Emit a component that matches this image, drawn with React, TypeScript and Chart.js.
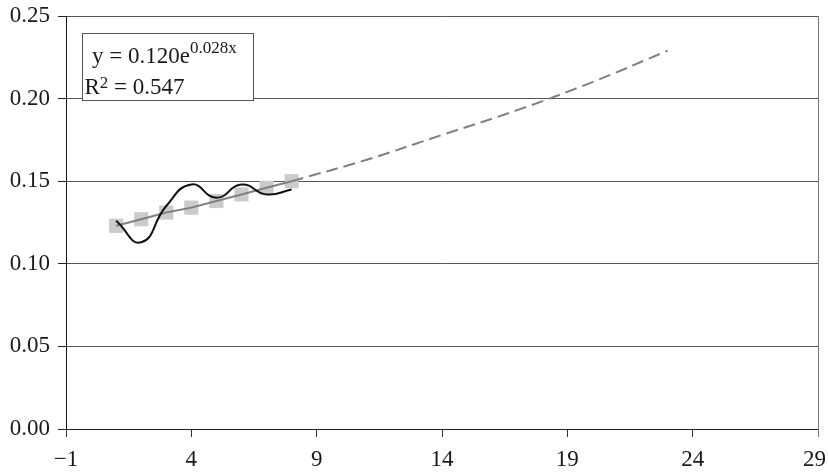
import { useEffect, useRef } from 'react';
import { Chart, registerables } from 'chart.js';

Chart.register(...registerables);

// Observed series (period → rate)
const periods = [1, 2, 3, 4, 5, 6, 7, 8];
const observed = [0.126, 0.113, 0.135, 0.148, 0.140, 0.148, 0.142, 0.145];

// Exponential fit y = 0.120e^(0.028x) at the observed periods
const fitted = [0.123, 0.127, 0.131, 0.134, 0.138, 0.142, 0.146, 0.150];

// Forecast extension of the fitted curve
const forecastX = [8, 11, 14, 17, 20, 23];
const forecastY = [0.150, 0.163, 0.178, 0.193, 0.210, 0.229];

// Axis ticks
const xTicks = [-1, 4, 9, 14, 19, 24, 29];
const yTicks = [0, 0.05, 0.1, 0.15, 0.2, 0.25];

// Trend-line annotation
const eqMain = 'y = 0.120e';
const eqExp = '0.028x';
const r2Label = 'R';
const r2Sup = '2';
const r2Value = ' = 0.547';

const FONT = '"Liberation Serif", "Times New Roman", serif';
const TEXT = '#1a1a1a';

const overlayPlugin = {
  id: 'overlay',
  afterDraw(chart: any) {
    const { ctx, chartArea, scales } = chart;
    ctx.save();

    // right frame line
    const xr = Math.round(chartArea.right) + 0.5;
    ctx.strokeStyle = '#777';
    ctx.lineWidth = 1;
    ctx.beginPath();
    ctx.moveTo(xr, chartArea.top);
    ctx.lineTo(xr, chartArea.bottom + 8);
    ctx.stroke();

    // x tick labels, kept inside the canvas
    ctx.font = `23px ${FONT}`;
    ctx.fillStyle = TEXT;
    ctx.textAlign = 'center';
    ctx.textBaseline = 'alphabetic';
    xTicks.forEach((v) => {
      const label = v < 0 ? '\u2212' + Math.abs(v) : String(v);
      const w = ctx.measureText(label).width;
      let x = scales.x.getPixelForValue(v);
      x = Math.min(x, chart.width - 2 - w / 2);
      ctx.fillText(label, x, chartArea.bottom + 37);
    });

    // equation box
    const bx = chartArea.left + 16;
    const by = chartArea.top + 17;
    const bw = 171;
    const bh = 67;
    ctx.fillStyle = '#fff';
    ctx.fillRect(bx, by, bw, bh);
    ctx.strokeStyle = '#555';
    ctx.lineWidth = 1;
    ctx.strokeRect(Math.round(bx) + 0.5, Math.round(by) + 0.5, bw, bh);

    ctx.fillStyle = TEXT;
    ctx.textAlign = 'left';
    ctx.font = `23px ${FONT}`;
    let tx = bx + 10;
    const l1 = by + 30;
    ctx.fillText(eqMain, tx, l1);
    tx += ctx.measureText(eqMain).width;
    ctx.font = `17px ${FONT}`;
    ctx.fillText(eqExp, tx, l1 - 10.5);

    ctx.font = `23px ${FONT}`;
    let rx = bx + 2.5;
    const l2 = by + 60.5;
    ctx.fillText(r2Label, rx, l2);
    rx += ctx.measureText(r2Label).width;
    ctx.font = `17px ${FONT}`;
    ctx.fillText(r2Sup, rx, l2 - 6);
    rx += ctx.measureText(r2Sup).width;
    ctx.font = `23px ${FONT}`;
    ctx.fillText(r2Value, rx, l2);

    ctx.restore();
  },
};

export default function App() {
  const canvasRef = useRef<HTMLCanvasElement | null>(null);

  useEffect(() => {
    if (!canvasRef.current) return;
    const chart = new Chart(canvasRef.current, {
      type: 'line',
      data: {
        datasets: [
          {
            label: 'Observed',
            data: periods.map((x, i) => ({ x, y: observed[i] })),
            borderColor: '#111',
            borderWidth: 2,
            pointRadius: 0,
            tension: 0.5,
            order: 0,
          },
          {
            label: 'Trend',
            data: periods.map((x, i) => ({ x, y: fitted[i] })),
            borderColor: '#808080',
            borderWidth: 2,
            pointRadius: 0,
            tension: 0,
            order: 1,
          },
          {
            label: 'Forecast',
            data: forecastX.map((x, i) => ({ x, y: forecastY[i] })),
            borderColor: '#808080',
            borderWidth: 2,
            borderDash: [12, 6],
            pointRadius: 0,
            tension: 0.4,
            order: 2,
          },
          {
            label: 'Fitted points',
            data: periods.map((x, i) => ({ x, y: fitted[i] })),
            showLine: false,
            pointStyle: 'rect',
            pointRadius: 10,
            pointBackgroundColor: '#cbcbcb',
            pointBorderWidth: 0,
            borderColor: '#cbcbcb',
            order: 3,
          },
        ],
      },
      options: {
        animation: false,
        responsive: true,
        maintainAspectRatio: false,
        layout: { padding: { left: 0, right: 3, top: 16, bottom: 0 } },
        plugins: {
          legend: { display: false },
          tooltip: { enabled: false },
        },
        scales: {
          x: {
            type: 'linear',
            min: -1,
            max: 29,
            afterBuildTicks: (scale: any) => {
              scale.ticks = xTicks.map((value) => ({ value }));
            },
            afterFit: (scale: any) => {
              scale.height = 44;
              scale.paddingLeft = 0;
              scale.paddingRight = 0;
            },
            grid: {
              drawOnChartArea: false,
              drawTicks: true,
              tickLength: 8,
              color: '#333',
            },
            border: { color: '#222', width: 1 },
            ticks: { display: false },
          },
          y: {
            min: 0,
            max: 0.25,
            afterBuildTicks: (scale: any) => {
              scale.ticks = yTicks.map((value) => ({ value }));
            },
            afterFit: (scale: any) => {
              scale.width = 66;
              scale.paddingTop = 0;
              scale.paddingBottom = 0;
            },
            grid: {
              color: '#555',
              tickLength: 8,
              tickColor: '#222',
            },
            border: { color: '#111', width: 1 },
            ticks: {
              padding: 8,
              color: TEXT,
              font: { family: FONT, size: 23 },
              callback: (v: any) => Number(v).toFixed(2),
            },
          },
        },
      },
      plugins: [overlayPlugin],
    });
    return () => chart.destroy();
  }, []);

  return (
    <div style={{ position: 'fixed', left: 0, top: 0, width: 828, height: 473, background: '#fff' }}>
      <canvas ref={canvasRef} />
    </div>
  );
}
